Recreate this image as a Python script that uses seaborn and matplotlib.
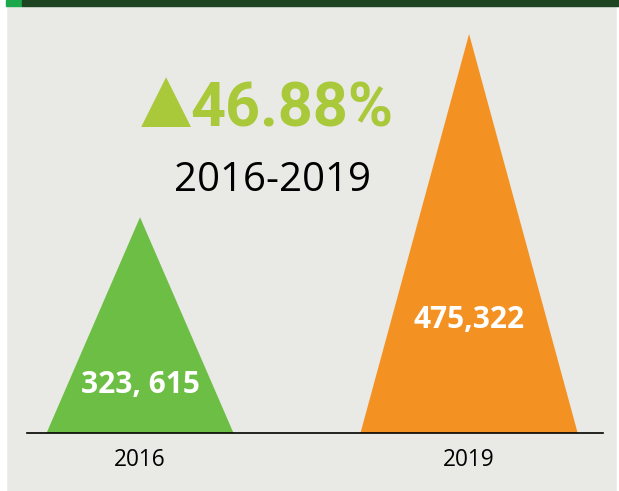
import matplotlib.pyplot as plt
import seaborn as sns
from matplotlib.patches import Rectangle

# data
years = ["2016", "2019"]
totals = [323615, 475322]
total_labels = ["323, 615", "475,322"]
change_text = "46.88%"
period_text = "2016-2019"

# style
tri_colors = ["#6dbe45", "#f39223"]
half_widths = [0.284, 0.33]
label_frac = [0.10, 0.263]
y_floor = 145000
bg = "#e9e9e5"
lime = "#a9c93a"

sns.set_theme(style="white")
plt.rcParams["font.family"] = ["Open Sans", "DejaVu Sans"]

W, H = 619, 491
fig = plt.figure(figsize=(W / 100, H / 100), dpi=100)
fig.patch.set_facecolor(bg)

def px_rect(x0, y0, x1, y1, color):
    fig.patches.append(Rectangle((x0 / W, 1 - y1 / H), (x1 - x0) / W, (y1 - y0) / H,
                                 transform=fig.transFigure, color=color, zorder=0))

px_rect(0, 0, 6, H, "white")
px_rect(617, 0, W, H, "white")
px_rect(6, 0, 22, 6, "#1aa84a")
px_rect(22, 0, W, 6, "#1d4521")

ax = fig.add_axes([27 / W, 58 / H, 576 / W, 399 / H])
ax.set_facecolor("none")

for i, (val, c, hw) in enumerate(zip(totals, tri_colors, half_widths)):
    ax.fill([i - hw, i, i + hw], [y_floor, val, y_floor], color=c, lw=0)

ax.set_xlim(-0.3435, 1.407)
ax.set_ylim(y_floor, max(totals))

for i, lab in enumerate(total_labels):
    ax.text(i, label_frac[i], lab, transform=ax.get_xaxis_transform(),
            ha="center", va="baseline", color="white", fontsize=21.5,
            fontweight="bold")

ax.set_xticks(range(len(years)))
ax.set_xticklabels(years, fontsize=16.3, color="black")
ax.tick_params(axis="x", length=0, pad=11)
ax.set_yticks([])
sns.despine(ax=ax, left=True)
ax.spines["bottom"].set_color("black")
ax.spines["bottom"].set_linewidth(1.2)

fig.text(166 / W, 1 - 119 / H, "\u25b2", ha="center", va="baseline",
         color=lime, fontsize=47, family="DejaVu Sans")
fig.text(292 / W, 1 - 126 / H, change_text, ha="center", va="baseline",
         color=lime, fontsize=44, fontweight="bold", family="Roboto")
fig.text(273 / W, 1 - 191 / H, period_text, ha="center", va="baseline",
         color="black", fontsize=29)

fig.savefig("out.png", dpi=100, facecolor=fig.get_facecolor())
